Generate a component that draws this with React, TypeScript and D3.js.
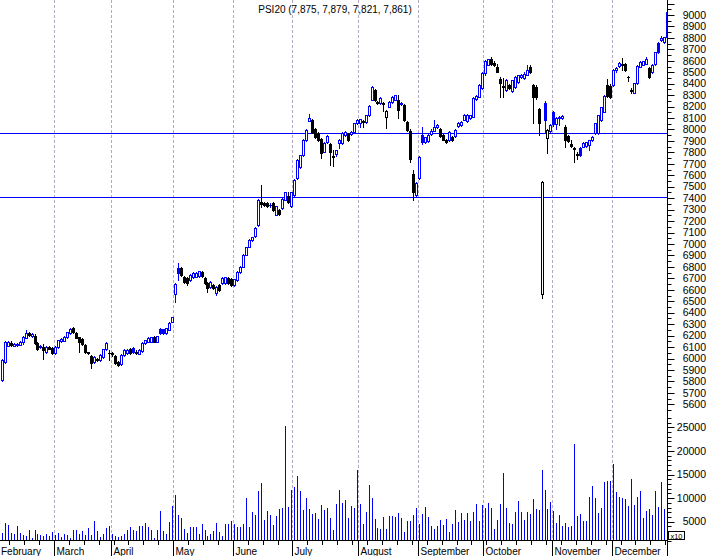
import React from "react";
import * as d3 from "d3";

const W = 709;
const H = 556;
const title = "PSI20 (7,875, 7,879, 7,821, 7,861)";
const monthNames = ["February", "March", "April", "May", "June", "July", "August", "September", "October", "November", "December"];

// [open, high, low, close]
const febOHLC = [
  [5812, 5995, 5805, 5987], [5970, 6150, 5965, 6144], [6110, 6155, 6105, 6144], [6135, 6150, 6110, 6118],
  [6110, 6135, 6105, 6127], [6118, 6135, 6110, 6130], [6120, 6150, 6115, 6144], [6140, 6195, 6130, 6188],
  [6180, 6245, 6175, 6223], [6220, 6235, 6195, 6205], [6196, 6220, 6190, 6214], [6200, 6215, 6130, 6135],
  [6135, 6140, 6075, 6083], [6105, 6115, 6090, 6100], [6100, 6127, 5995, 6074], [6057, 6110, 6050, 6100],
  [6100, 6110, 6080, 6085], [6092, 6100, 6040, 6048],
];
const marOHLC = [
  [6048, 6105, 6040, 6100], [6100, 6165, 6095, 6161], [6153, 6175, 6145, 6170], [6155, 6195, 6150, 6188],
  [6188, 6235, 6180, 6231], [6223, 6265, 6215, 6258], [6266, 6275, 6225, 6231], [6225, 6230, 6175, 6179],
  [6185, 6190, 6055, 6144], [6170, 6175, 6120, 6127], [6118, 6125, 6050, 6057], [6055, 6060, 6040, 6050],
  [6022, 6030, 5917, 5961], [5969, 6020, 5960, 6013], [5995, 6005, 5980, 5987], [5987, 6035, 5980, 6030],
  [6013, 6085, 6005, 6083], [6083, 6140, 6075, 6135], [6050, 6074, 5987, 6048],
];
const aprOHLC = [
  [6045, 6060, 6020, 6039], [6022, 6030, 5955, 5961], [5969, 5975, 5935, 5943], [5952, 6035, 5945, 6030],
  [6030, 6080, 6025, 6074], [6048, 6080, 6040, 6074], [6083, 6090, 6040, 6048], [6092, 6100, 6050, 6057],
  [6057, 6070, 6040, 6050], [6039, 6080, 6035, 6074], [6065, 6140, 6060, 6135], [6135, 6165, 6130, 6161],
  [6144, 6185, 6140, 6179], [6144, 6190, 6140, 6188], [6188, 6195, 6140, 6144], [6144, 6200, 6140, 6196],
  [6258, 6265, 6215, 6223], [6255, 6262, 6218, 6225], [6223, 6270, 6218, 6266], [6249, 6315, 6245, 6310],
  [6319, 6365, 6315, 6362],
];
const mayOHLC = [
  [6563, 6660, 6495, 6650], [6790, 6834, 6685, 6747], [6790, 6800, 6720, 6729], [6712, 6720, 6660, 6668],
  [6700, 6708, 6645, 6660], [6685, 6735, 6680, 6729], [6712, 6755, 6705, 6747], [6715, 6755, 6710, 6750],
  [6720, 6765, 6715, 6760], [6755, 6765, 6715, 6720], [6705, 6710, 6650, 6660], [6660, 6665, 6580, 6615],
  [6625, 6675, 6620, 6668], [6640, 6650, 6605, 6615], [6572, 6630, 6555, 6625], [6645, 6655, 6590, 6600],
  [6660, 6710, 6655, 6705], [6662, 6712, 6655, 6708], [6700, 6712, 6650, 6660], [6690, 6700, 6635, 6645],
];
const junOHLC = [
  [6645, 6695, 6635, 6690], [6685, 6760, 6680, 6755], [6755, 6805, 6750, 6800], [6800, 6910, 6795, 6904],
  [6904, 6975, 6900, 6974], [6974, 7040, 6970, 7035], [7035, 7065, 7030, 7060], [7070, 7145, 7065, 7140],
  [7166, 7390, 7160, 7384], [7365, 7515, 7320, 7350], [7360, 7370, 7335, 7340], [7355, 7365, 7320, 7330],
  [7340, 7355, 7325, 7338], [7355, 7365, 7290, 7300], [7255, 7335, 7250, 7330], [7300, 7310, 7255, 7262],
  [7315, 7400, 7310, 7395], [7385, 7455, 7380, 7450], [7415, 7450, 7360, 7365], [7330, 7455, 7325, 7450],
];
const julOHLC = [
  [7429, 7565, 7420, 7559], [7577, 7740, 7570, 7734], [7672, 7780, 7665, 7777], [7777, 7915, 7770, 7908],
  [7908, 8000, 7900, 7996], [8075, 8135, 8070, 8100], [8083, 8095, 7970, 7978], [8000, 8010, 7925, 7935],
  [7965, 7975, 7900, 7908], [7918, 7925, 7750, 7795], [7805, 7890, 7800, 7882], [7890, 7952, 7885, 7945],
  [7875, 7885, 7690, 7805], [7770, 7820, 7680, 7760], [7790, 7825, 7770, 7820], [7882, 7920, 7840, 7908],
  [7882, 7975, 7875, 7970], [7952, 7990, 7945, 7980], [7960, 7970, 7900, 7910], [7960, 7985, 7950, 7978],
  [7978, 8060, 7970, 8057], [8057, 8090, 8050, 8083],
];
const augOHLC = [
  [8060, 8095, 8020, 8090], [8070, 8085, 8020, 8065], [8065, 8130, 8060, 8127], [8127, 8210, 8120, 8205],
  [8260, 8380, 8255, 8372], [8345, 8355, 8250, 8258], [8240, 8250, 8220, 8232], [8232, 8280, 8225, 8275],
  [8230, 8240, 8165, 8222], [8110, 8170, 8010, 8160], [8200, 8245, 8195, 8240], [8240, 8290, 8235, 8285],
  [8260, 8305, 8255, 8301], [8258, 8301, 8100, 8170], [8220, 8240, 8215, 8232], [8214, 8225, 8075, 8083],
  [8065, 8075, 7985, 7996], [7990, 8000, 7720, 7740], [7610, 7646, 7384, 7455], [7430, 7540, 7420, 7530],
];
const sepOHLC = [
  [7577, 7770, 7570, 7760], [7952, 8020, 7875, 7890], [7890, 7935, 7880, 7935], [7900, 7960, 7895, 7955],
  [7960, 8000, 7955, 7990], [7990, 8085, 7985, 8020], [8020, 8045, 8015, 8040], [8000, 8010, 7935, 7945],
  [7950, 7960, 7905, 7910], [7905, 7920, 7880, 7895], [7910, 7985, 7900, 7975], [7935, 7945, 7900, 7910],
  [7940, 8000, 7935, 7996], [8030, 8065, 8025, 8057], [8035, 8070, 8030, 8065], [8083, 8135, 8080, 8127],
  [8070, 8135, 8065, 8127], [8100, 8130, 8095, 8130], [8110, 8280, 8105, 8275], [8270, 8300, 8260, 8295],
  [8285, 8395, 8280, 8389], [8360, 8500, 8355, 8495],
];
const octOHLC = [
  [8490, 8610, 8480, 8600], [8565, 8620, 8560, 8615], [8620, 8630, 8565, 8570], [8585, 8600, 8555, 8565],
  [8545, 8570, 8500, 8505], [8440, 8455, 8285, 8405], [8380, 8450, 8285, 8370], [8345, 8440, 8340, 8432],
  [8385, 8400, 8350, 8360], [8340, 8435, 8330, 8430], [8370, 8465, 8365, 8460], [8415, 8480, 8410, 8476],
  [8460, 8482, 8450, 8478], [8450, 8505, 8445, 8485], [8480, 8560, 8475, 8520], [8545, 8565, 8495, 8500],
  [8389, 8400, 8055, 8285], [8370, 8385, 8270, 8280], [8180, 8190, 7950, 8060], [6560, 7550, 6530, 7545],
  [8232, 8250, 7970, 8083], [7925, 8000, 7795, 7995], [7985, 8045, 7975, 8040],
];
const novOHLC = [
  [8150, 8160, 8030, 8045], [8045, 8110, 8000, 8100], [8110, 8115, 8040, 8102], [8100, 8125, 8095, 8118],
  [8020, 8035, 7850, 7910], [7945, 7955, 7895, 7900], [7870, 7910, 7845, 7860], [7830, 7850, 7715, 7840],
  [7785, 7800, 7745, 7775], [7835, 7845, 7765, 7780], [7850, 7890, 7845, 7885], [7855, 7895, 7850, 7890],
  [7865, 7910, 7820, 7905], [7910, 7940, 7900, 7935], [7970, 8060, 7965, 8055], [7970, 8130, 7965, 8125],
  [8083, 8200, 8075, 8195], [8155, 8300, 8150, 8295], [8385, 8440, 8280, 8290], [8380, 8395, 8275, 8285],
];
const decOHLC = [
  [8389, 8525, 8380, 8520], [8520, 8545, 8505, 8540], [8555, 8590, 8550, 8580], [8565, 8625, 8520, 8575],
  [8575, 8585, 8515, 8520], [8462, 8465, 8425, 8458], [8345, 8365, 8320, 8340], [8320, 8410, 8315, 8405],
  [8405, 8560, 8400, 8555], [8550, 8595, 8545, 8590], [8565, 8600, 8560, 8595], [8575, 8630, 8570, 8620],
  [8540, 8545, 8450, 8460], [8500, 8570, 8495, 8565], [8570, 8680, 8565, 8675], [8755, 8760, 8670, 8680],
  [8782, 8820, 8775, 8800], [8760, 8810, 8755, 8805], [9030, 9150, 8800, 8810],
];

const febVol = [2680, 4650, 4300, 2680, 2390, 4090, 2680, 2180, 1970, 3240, 1620, 3240, 2390, 2180, 1970, 2390, 1970, 2890];
const marVol = [2180, 2680, 1830, 2390, 2180, 1480, 3240, 3240, 2390, 3100, 2180, 3740, 2180, 5220, 3100, 1830, 2390, 3740, 4090];
const aprVol = [2390, 1970, 1830, 1970, 2390, 3240, 3950, 3240, 3100, 4090, 4090, 4720, 3810, 3240, 1550, 3240, 7340, 3100, 2390, 4940, 8330];
const mayVol = [10660, 6420, 5780, 3520, 2680, 3880, 3880, 3880, 2390, 4510, 3240, 1970, 2390, 3100, 4720, 2890, 2000, 4510, 4510, 5150];
const junVol = [4510, 3880, 3880, 4510, 10020, 3880, 7060, 6420, 11500, 13200, 5360, 7270, 6420, 4300, 6210, 7690, 7900, 25280, 8110, 11720];
const julVol = [12350, 14680, 11500, 7480, 10020, 7690, 6630, 6840, 5570, 8540, 7480, 7900, 5780, 3240, 8750, 11720, 8960, 9600, 5780, 8330, 7900, 15950];
const augVol = [8750, 4510, 7060, 12780, 10020, 5570, 3670, 3450, 6000, 3450, 6210, 6210, 6000, 6840, 5780, 2820, 5150, 5150, 6420, 7900];
const sepVol = [4510, 6630, 8110, 6000, 4090, 3450, 4090, 5360, 4300, 5570, 2820, 4510, 7480, 4940, 6840, 5360, 6840, 5150, 7060, 8820, 5220, 8610];
const octVol = [7970, 9030, 7970, 3520, 5430, 8820, 15390, 7970, 4730, 4580, 7130, 9460, 7130, 5430, 7130, 6700, 9880, 7760, 7550, 16020, 11790, 7760, 9240];
const novVol = [7340, 4800, 6490, 4160, 4800, 3950, 4160, 21530, 6280, 6630, 5220, 5220, 10300, 12560, 10090, 6910, 7970, 13480, 13550, 13690];
const decVol = [17230, 11290, 10300, 10090, 9880, 8400, 14120, 8610, 10300, 11580, 5850, 7340, 7760, 6490, 11580, 8180, 13480, 7760, 7130];

const levelLines = [7967, 7408];
const priceLabels = d3.range(5600, 9001, 100);
const volumeLabels = [5000, 10000, 15000, 20000, 25000];

const ohlcByMonth = [febOHLC, marOHLC, aprOHLC, mayOHLC, junOHLC, julOHLC, augOHLC, sepOHLC, octOHLC, novOHLC, decOHLC];
const volByMonth = [febVol, marVol, aprVol, mayVol, junVol, julVol, augVol, sepVol, octVol, novVol, decVol];

const BLUE = "#0000ff";
const BLACK = "#000000";
const FONT = "'Liberation Sans', Arial, Helvetica, sans-serif";

export default function App() {
  const ohlc = ohlcByMonth.flat();
  const vols = volByMonth.flat();
  const N = ohlc.length;
  const monthStarts: number[] = [];
  let acc = 0;
  ohlcByMonth.forEach((m) => { monthStarts.push(acc); acc += m.length; });

  const x = d3.scaleLinear().domain([0, N - 1]).range([1.7, 666.8]);
  const yP = d3.scaleLinear().domain([5600, 9000]).range([404.3, 15]);
  const yV = d3.scaleLinear().domain([0, 25000]).range([545.3, 427.3]);
  const axisX = 667.5;
  const baseY = 540.5;

  const px = (i: number) => Math.round(x(i));

  const candles = ohlc.map((d, i) => {
    const [o, h, l, c] = d;
    const prevC = i > 0 ? ohlc[i - 1][3] : o;
    const color = c >= prevC ? BLUE : BLACK;
    const cx = px(i);
    const yo = Math.round(yP(o));
    const yc = Math.round(yP(c));
    const yh = Math.round(yP(h));
    const yl = Math.round(yP(l));
    const hollow = c >= o;
    let body: React.ReactNode;
    if (Math.abs(yo - yc) < 1) {
      body = <line x1={cx - 1} x2={cx + 2} y1={yo + 0.5} y2={yo + 0.5} stroke={color} strokeWidth={1} />;
    } else if (hollow) {
      body = <rect x={cx - 0.5} y={yc + 0.5} width={2} height={yo - yc} fill="#ffffff" stroke={color} strokeWidth={1} />;
    } else {
      body = <rect x={cx - 1} y={yo} width={3} height={yc - yo + 1} fill={color} />;
    }
    return (
      <g key={i}>
        <line x1={cx + 0.5} x2={cx + 0.5} y1={yh} y2={yl + 1} stroke={color} strokeWidth={1} />
        {body}
      </g>
    );
  });

  const volBars = vols.map((v, i) => {
    const yt = Math.round(yV(v));
    const h = Math.max(540 - yt, 0);
    return <rect key={i} x={px(i)} y={yt} width={1} height={h} fill={BLUE} />;
  });

  const priceTicks = d3.range(5550, 9151, 50);
  const volTicks = d3.range(1000, 27001, 1000);
  const weekly = d3.range(3, N, 5);

  return (
    <svg width={W} height={H} style={{ position: "absolute", left: 0, top: 0, background: "#fff" }} fontFamily={FONT}>
      <defs>
        <clipPath id="pclip"><rect x={0} y={0} width={axisX} height={412} /></clipPath>
      </defs>
      <rect x={0} y={0} width={W} height={H} fill="#ffffff" />
      {/* month grid */}
      {monthStarts.slice(1).map((s, k) => (
        <line key={k} x1={Math.floor(x(s)) - 0.5} x2={Math.floor(x(s)) - 0.5} y1={0} y2={540}
          stroke="#b4aac4" strokeWidth={1} strokeDasharray="3 2" />
      ))}
      {/* level lines */}
      {levelLines.map((v, k) => (
        <line key={k} x1={0} x2={axisX} y1={Math.round(yP(v)) + 0.5} y2={Math.round(yP(v)) + 0.5} stroke={BLUE} strokeWidth={1} />
      ))}
      <g clipPath="url(#pclip)">{candles}</g>
      <g>{volBars}</g>
      {/* title */}
      <text x={335} y={12.5} fontSize={10} textAnchor="middle" fill="#000">{title}</text>
      {/* right axis */}
      <line x1={axisX} x2={axisX} y1={0} y2={H} stroke="#000" strokeWidth={1} />
      {priceTicks.map((t) => {
        const yy = Math.round(yP(t)) + 0.5;
        const major = t % 100 === 0;
        return <line key={"p" + t} x1={axisX} x2={axisX + (major ? 7 : 4)} y1={yy} y2={yy} stroke="#000" strokeWidth={1} />;
      })}
      {priceLabels.map((t) => (
        <text key={"pl" + t} x={706} y={yP(t) + 3.7} fontSize={10.5} textAnchor="end" fill="#000">{t}</text>
      ))}
      {volTicks.map((t) => {
        const yy = Math.round(yV(t)) + 0.5;
        const major = t % 5000 === 0;
        return <line key={"v" + t} x1={axisX} x2={axisX + (major ? 7 : 4)} y1={yy} y2={yy} stroke="#000" strokeWidth={1} />;
      })}
      {volumeLabels.map((t) => (
        <text key={"vl" + t} x={706} y={yV(t) + 3.7} fontSize={10.5} textAnchor="end" fill="#000">{t}</text>
      ))}
      <rect x={668.5} y={531.5} width={16} height={8} fill="#fff" stroke="#000" strokeWidth={1} />
      <text x={676.5} y={538.5} fontSize={7.5} textAnchor="middle" fill="#000">x10</text>
      {/* bottom axis */}
      <line x1={0} x2={axisX} y1={baseY} y2={baseY} stroke="#000" strokeWidth={1} />
      {weekly.map((i) => (
        <line key={"w" + i} x1={Math.floor(x(i)) - 0.5} x2={Math.floor(x(i)) - 0.5} y1={540} y2={545} stroke="#000" strokeWidth={1} />
      ))}
      {monthStarts.slice(1).map((s, k) => (
        <line key={"m" + k} x1={Math.floor(x(s)) - 0.5} x2={Math.floor(x(s)) - 0.5} y1={540} y2={H} stroke="#000" strokeWidth={1} />
      ))}
      {monthStarts.map((s, k) => (
        <text key={"ml" + k} x={k === 0 ? 1 : Math.floor(x(s)) + 1.5} y={555} fontSize={10} fill="#000">{monthNames[k]}</text>
      ))}
    </svg>
  );
}
